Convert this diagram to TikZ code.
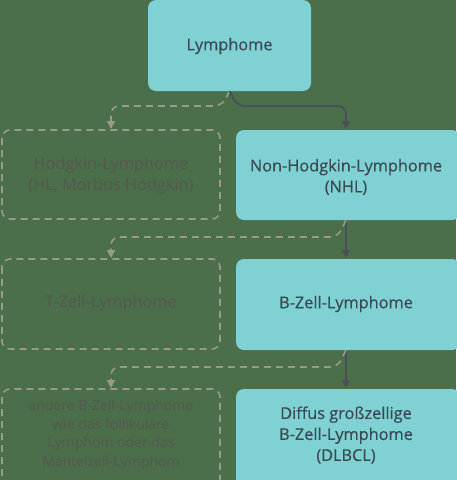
\documentclass[tikz,border=0pt]{standalone}
\usepackage{fontspec}
\setmainfont{Open Sans}
\newfontfamily\semib[FakeBold=0.5]{Open Sans}
\usetikzlibrary{arrows.meta}
\definecolor{bg}{HTML}{4B6E4B}
\definecolor{teal}{HTML}{7FD1D3}
\definecolor{txt}{HTML}{3B4A50}
\definecolor{dsh}{HTML}{9A9A88}
\definecolor{sol}{HTML}{4A4F58}
\definecolor{dimtxt}{HTML}{565850}
\begin{document}
\begin{tikzpicture}[x=1pt,y=-1pt,
  mainbox/.style={fill=teal, rounded corners=8pt},
  altbox/.style={draw=dsh, line width=1.6pt, dash pattern=on 7pt off 5pt, rounded corners=8pt},
  maintext/.style={text=txt, align=center, inner sep=0pt, font=\semib\fontsize{16.3}{21}\selectfont},
  alttext/.style={text=dimtxt, align=center, inner sep=0pt, font=\fontsize{16.3}{21}\selectfont},
  smalltext/.style={text=dimtxt, align=center, inner sep=0pt, font=\fontsize{14}{18.5}\selectfont},
  solidarrow/.style={draw=sol, line width=1.8pt, -{Triangle[length=8pt,width=8pt]}, rounded corners=8pt},
  dasharrow/.style={draw=dsh, line width=1.6pt, dash pattern=on 7pt off 5pt, -{Triangle[length=8pt,width=8pt]}, rounded corners=8pt}]
\fill[bg] (0,0) rectangle (456,480);
\useasboundingbox (0,0) rectangle (456,480);
% main column
\path[mainbox] (148,0) rectangle (311,91);
\node[maintext] (lym) at (229.5,46) {Lymphome};
\path[mainbox] (236,130) rectangle (460,220);
\node[maintext] (nhl) at (346,177) {Non-Hodgkin-Lymphome\\(NHL)};
\path[mainbox] (236,259) rectangle (460,350);
\node[maintext] (bz) at (346,304) {B-Zell-Lymphome};
\path[mainbox] (236,389) rectangle (460,488);
\node[maintext] (dl) at (346,435) {Diffus großzellige\\B-Zell-Lymphome\\(DLBCL)};
% alternative column
\draw[altbox] (2,130) rectangle (220,219);
\node[alttext] (hl) at (111,176) {Hodgkin-Lymphome\\(HL, Morbus Hodgkin)};
\draw[altbox] (2,259) rectangle (220,349);
\node[alttext] (tz) at (111,303) {T-Zell-Lymphome};
\draw[altbox] (2,389) rectangle (220,490);
\node[smalltext] (ab) at (111,435) {andere B-Zell-Lymphome\\wie das follikuläre\\Lymphom oder das\\Mantelzell-Lymphom};
% coordinates of box edges
\coordinate (lymb) at (229.5,91);
\coordinate (nhlt) at (346,129);
\coordinate (nhlb) at (346,220);
\coordinate (bzt) at (346,258);
\coordinate (bzb) at (346,350);
\coordinate (dlt) at (346,388);
\coordinate (hlt) at (111,129);
\coordinate (tzt) at (111,258);
\coordinate (abt) at (111,388);
% connectors
\draw[dasharrow] (lymb) -- (222,106) -- (111,106) -- (hlt);
\draw[solidarrow] (lymb) -- (237,106) -- (346,106) -- (nhlt);
\draw[solidarrow] (nhlb) -- (bzt);
\draw[dasharrow] (nhlb) -- (338,237) -- (111,237) -- (tzt);
\draw[solidarrow] (bzb) -- (dlt);
\draw[dasharrow] (bzb) -- (338,367) -- (111,367) -- (abt);
\end{tikzpicture}
\end{document}
